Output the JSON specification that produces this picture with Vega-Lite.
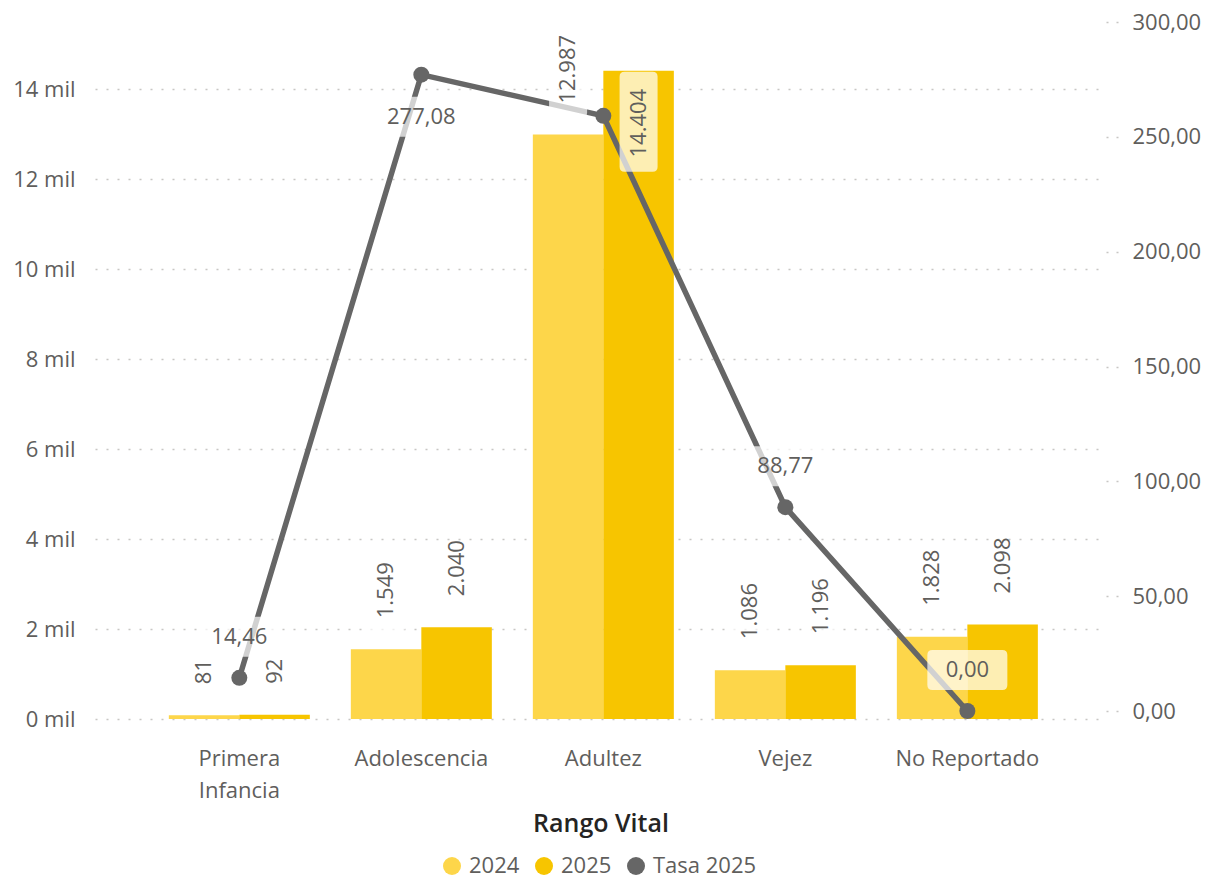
{
  "$schema": "https://vega.github.io/schema/vega-lite/v6.json",
  "width": 1011,
  "height": 697,
  "autosize": {"type": "none"},
  "padding": {"left": 95, "top": 22, "right": 102, "bottom": 161},
  "config": {
    "locale": {"number": {"decimal": ",", "thousands": ".", "grouping": [3], "currency": ["$", ""]}},
    "view": {"stroke": null},
    "font": "Open Sans",
    "axis": {"labelFont": "Open Sans", "labelColor": "#605E5C", "titleFont": "Open Sans"},
    "legend": {"labelFont": "Open Sans"}
  },
  "datasets": {
    "barras": [
      {"rango": "Primera Infancia", "anio": "2024", "valor": 81},
      {"rango": "Primera Infancia", "anio": "2025", "valor": 92},
      {"rango": "Adolescencia", "anio": "2024", "valor": 1549},
      {"rango": "Adolescencia", "anio": "2025", "valor": 2040},
      {"rango": "Adultez", "anio": "2024", "valor": 12987},
      {"rango": "Adultez", "anio": "2025", "valor": 14404},
      {"rango": "Vejez", "anio": "2024", "valor": 1086},
      {"rango": "Vejez", "anio": "2025", "valor": 1196},
      {"rango": "No Reportado", "anio": "2024", "valor": 1828},
      {"rango": "No Reportado", "anio": "2025", "valor": 2098}
    ],
    "tasa": [
      {"rango": "Primera Infancia", "tasa": 14.46},
      {"rango": "Adolescencia", "tasa": 277.08},
      {"rango": "Adultez", "tasa": 259.13},
      {"rango": "Vejez", "tasa": 88.77},
      {"rango": "No Reportado", "tasa": 0}
    ]
  },
  "encoding": {
    "x": {
      "field": "rango",
      "type": "nominal",
      "sort": ["Primera Infancia", "Adolescencia", "Adultez", "Vejez", "No Reportado"],
      "title": "Rango Vital",
      "scale": {"paddingInner": 0.2253, "paddingOuter": 0.39, "align": 0.52},
      "axis": {
        "labelAngle": 0,
        "labelFontSize": 22,
        "labelColor": "#605E5C",
        "labelPadding": 29,
        "labelLineHeight": 32,
        "labelExpr": "datum.label === 'Primera Infancia' ? ['Primera', 'Infancia'] : datum.label",
        "domain": false,
        "ticks": false,
        "tickSize": 0,
        "titleFontSize": 25,
        "titleFontWeight": 600,
        "titleColor": "#252423",
        "titlePadding": 10
      }
    }
  },
  "layer": [
    {
      "data": {"name": "barras"},
      "mark": {"type": "bar"},
      "encoding": {
        "xOffset": {"field": "anio", "type": "nominal", "scale": {"paddingInner": 0, "paddingOuter": 0}},
        "y": {
          "field": "valor",
          "type": "quantitative",
          "scale": {"domain": [0, 15489], "nice": false},
          "axis": {
            "orient": "left",
            "title": null,
            "values": [0, 2000, 4000, 6000, 8000, 10000, 12000, 14000],
            "labelExpr": "(datum.value / 1000) + ' mil'",
            "labelFontSize": 22,
            "labelPadding": 20,
            "ticks": false,
            "tickSize": 0,
            "domain": false,
            "grid": true,
            "gridDash": [2, 9],
            "gridColor": "#C8C6C4",
            "gridWidth": 1.5
          }
        },
        "color": {
          "field": "anio",
          "type": "nominal",
          "scale": {"domain": ["2024", "2025", "Tasa 2025"], "range": ["#FDD64A", "#F7C500", "#666666"]},
          "legend": {
            "orient": "none",
            "legendX": 346,
            "legendY": 833,
            "direction": "horizontal",
            "title": null,
            "symbolType": "circle",
            "symbolSize": 324,
            "symbolStrokeWidth": 0,
            "labelFontSize": 22,
            "labelColor": "#605E5C",
            "labelOffset": 6,
            "columnPadding": 13,
            "padding": 0
          }
        }
      }
    },
    {
      "data": {"name": "tasa"},
      "mark": {"type": "line", "color": "#666666", "strokeWidth": 5.5},
      "encoding": {
        "y": {
          "field": "tasa",
          "type": "quantitative",
          "scale": {"domain": [-3.478, 300], "nice": false, "zero": false},
          "axis": {
            "orient": "right",
            "title": null,
            "values": [0, 50, 100, 150, 200, 250, 300],
            "format": ",.2f",
            "labelFontSize": 22,
            "labelPadding": 12,
            "domain": false,
            "grid": false,
            "ticks": true,
            "tickSize": 14,
            "tickDash": [2, 8],
            "tickColor": "#C8C6C4",
            "tickWidth": 1.5
          }
        }
      }
    },
    {
      "data": {"name": "tasa"},
      "mark": {"type": "point", "filled": true, "size": 256, "color": "#666666", "opacity": 1},
      "encoding": {
        "y": {"field": "tasa", "type": "quantitative", "scale": {"domain": [-3.478, 300], "nice": false, "zero": false}, "axis": null}
      }
    },
    {
      "data": {"name": "barras"},
      "transform": [{"filter": "datum.valor < 14000"}],
      "mark": {"type": "point", "shape": "M-14,-80 L14,-80 Q19,-80 19,-75 L19,-22 Q19,-17 14,-17 L-14,-17 Q-19,-17 -19,-22 L-19,-75 Q-19,-80 -14,-80 Z", "size": 4, "filled": true, "fill": "#FFFFFF", "fillOpacity": 0.7, "opacity": 1, "strokeWidth": 0},
      "encoding": {
        "xOffset": {"field": "anio", "type": "nominal"},
        "y": {"field": "valor", "type": "quantitative", "scale": {"domain": [0, 15489], "nice": false}, "axis": null}
      }
    },
    {
      "data": {"name": "barras"},
      "transform": [{"filter": "datum.valor >= 14000"}],
      "mark": {"type": "point", "shape": "M-14,1 L14,1 Q19,1 19,6 L19,96 Q19,101 14,101 L-14,101 Q-19,101 -19,96 L-19,6 Q-19,1 -14,1 Z", "size": 4, "filled": true, "fill": "#FFFFFF", "fillOpacity": 0.7, "opacity": 1, "strokeWidth": 0},
      "encoding": {
        "xOffset": {"field": "anio", "type": "nominal"},
        "y": {"field": "valor", "type": "quantitative", "scale": {"domain": [0, 15489], "nice": false}, "axis": null}
      }
    },
    {
      "data": {"name": "tasa"},
      "transform": [{"filter": "datum.rango !== 'Adultez' && datum.rango !== 'Adolescencia'"}],
      "mark": {"type": "point", "shape": "M-35,-61 L35,-61 Q40,-61 40,-56 L40,-26 Q40,-21 35,-21 L-35,-21 Q-40,-21 -40,-26 L-40,-56 Q-40,-61 -35,-61 Z", "size": 4, "filled": true, "fill": "#FFFFFF", "fillOpacity": 0.7, "opacity": 1, "strokeWidth": 0},
      "encoding": {
        "y": {"field": "tasa", "type": "quantitative", "scale": {"domain": [-3.478, 300], "nice": false, "zero": false}, "axis": null}
      }
    },
    {
      "data": {"name": "tasa"},
      "transform": [{"filter": "datum.rango === 'Adolescencia'"}],
      "mark": {"type": "point", "shape": "M-35,22 L35,22 Q40,22 40,27 L40,57 Q40,62 35,62 L-35,62 Q-40,62 -40,57 L-40,27 Q-40,22 -35,22 Z", "size": 4, "filled": true, "fill": "#FFFFFF", "fillOpacity": 0.7, "opacity": 1, "strokeWidth": 0},
      "encoding": {
        "y": {"field": "tasa", "type": "quantitative", "scale": {"domain": [-3.478, 300], "nice": false, "zero": false}, "axis": null}
      }
    },
    {
      "data": {"name": "barras"},
      "transform": [{"filter": "datum.valor < 14000"}],
      "mark": {"type": "text", "angle": 270, "align": "left", "baseline": "middle", "dx": 31, "fontSize": 22, "color": "#605E5C"},
      "encoding": {
        "xOffset": {"field": "anio", "type": "nominal"},
        "y": {"field": "valor", "type": "quantitative", "scale": {"domain": [0, 15489], "nice": false}, "axis": null},
        "text": {"field": "valor", "type": "quantitative", "format": ",.0f"}
      }
    },
    {
      "data": {"name": "barras"},
      "transform": [{"filter": "datum.valor >= 14000"}],
      "mark": {"type": "text", "angle": 270, "align": "right", "baseline": "middle", "dx": -18, "fontSize": 22, "color": "#605E5C"},
      "encoding": {
        "xOffset": {"field": "anio", "type": "nominal"},
        "y": {"field": "valor", "type": "quantitative", "scale": {"domain": [0, 15489], "nice": false}, "axis": null},
        "text": {"field": "valor", "type": "quantitative", "format": ",.0f"}
      }
    },
    {
      "data": {"name": "tasa"},
      "transform": [{"filter": "datum.rango !== 'Adultez' && datum.rango !== 'Adolescencia'"}],
      "mark": {"type": "text", "align": "center", "baseline": "middle", "dy": -41, "fontSize": 22, "color": "#605E5C"},
      "encoding": {
        "y": {"field": "tasa", "type": "quantitative", "scale": {"domain": [-3.478, 300], "nice": false, "zero": false}, "axis": null},
        "text": {"field": "tasa", "type": "quantitative", "format": ",.2f"}
      }
    },
    {
      "data": {"name": "tasa"},
      "transform": [{"filter": "datum.rango === 'Adolescencia'"}],
      "mark": {"type": "text", "align": "center", "baseline": "middle", "dy": 42, "fontSize": 22, "color": "#605E5C"},
      "encoding": {
        "y": {"field": "tasa", "type": "quantitative", "scale": {"domain": [-3.478, 300], "nice": false, "zero": false}, "axis": null},
        "text": {"field": "tasa", "type": "quantitative", "format": ",.2f"}
      }
    }
  ],
  "resolve": {"scale": {"y": "independent"}}
}
